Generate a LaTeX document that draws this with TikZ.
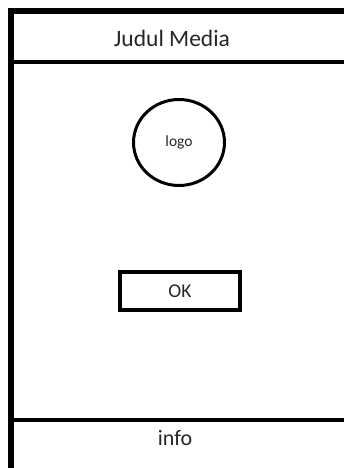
\documentclass[tikz,border=0pt]{standalone}
\usepackage{fontspec}
\setmainfont{Carlito}
\usetikzlibrary{shapes.geometric}

\begin{document}
\begin{tikzpicture}[x=1pt, y=-1pt,
        screentext/.style={inner sep=0pt, text=black!85}]
        \useasboundingbox (0,0) rectangle (344,468);
        \clip (0,0) rectangle (344,468);

        % Define corners of the screen frame
        \coordinate (F1) at (11, 11);     % Top-left
        \coordinate (F2) at (353, 474);   % Bottom-right (cut off)

        % Define ends of the header and footer bars
        \coordinate (H1) at (11, 62);
        \coordinate (H2) at (353, 62);
        \coordinate (G1) at (11, 420);
        \coordinate (G2) at (353, 420);

        % Draw screen outline with header and footer
        \draw[line width=6pt, black] (F1) rectangle (F2);
        \draw[line width=4pt, black] (H1) -- (H2);
        \draw[line width=4pt, black] (G1) -- (G2);

        % Header and footer texts
        \node[screentext, font=\fontsize{23.5}{27}\selectfont] (judul) at (172, 38) {Judul Media};
        \node[screentext, font=\fontsize{22}{26}\selectfont] (info) at (175, 438) {info};

        % Logo and button
        \node[draw, ellipse, line width=3pt, minimum width=91pt, minimum height=86pt,
              screentext, font=\fontsize{15.5}{18}\selectfont] (logo) at (179, 142.5) {logo};
        \node[draw, line width=4pt, minimum width=120pt, minimum height=38pt,
              screentext, font=\fontsize{19.5}{23}\selectfont] (ok) at (180, 291) {OK};
    \end{tikzpicture}
\end{document}
